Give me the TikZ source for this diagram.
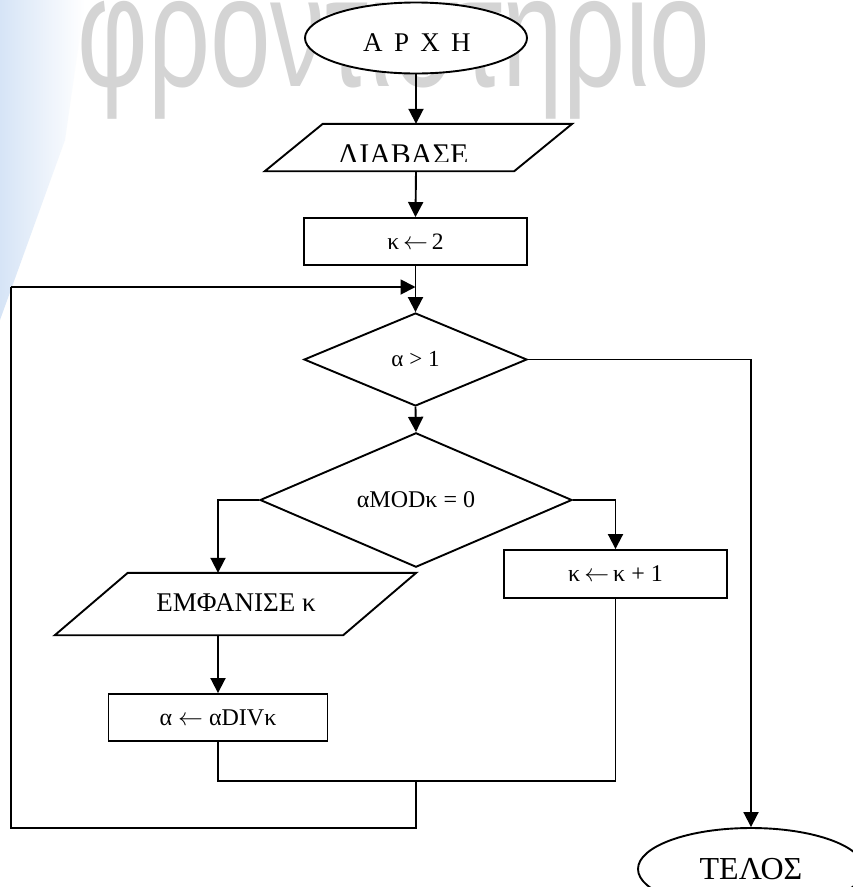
\documentclass[tikz,border=0pt]{standalone}
\usepackage{fontspec}
\setmainfont{Liberation Serif}
\newfontfamily\wmfont{Liberation Sans}
\usetikzlibrary{shapes.geometric,arrows.meta,calc}
\newcommand{\lar}{\ensuremath{\leftarrow}}
\begin{document}
\begin{tikzpicture}[x=1pt,y=-1pt,
  line/.style={line width=1.9pt},
  arr/.style={line width=1.9pt,-{Triangle[length=15pt,width=15pt]}},
  box/.style={draw,line width=1.9pt,rectangle,inner sep=0pt,fill=white},
  dia/.style={draw,line width=1.9pt,diamond,inner sep=0pt,fill=white},
  term/.style={draw,line width=1.9pt,ellipse,inner sep=0pt,fill=white},
  ghost/.style={inner sep=0pt},
  fs/.style={font=\fontsize{#1}{#1}\selectfont}
]
\clip (0,0) rectangle (853,887);
\fill[white] (0,0) rectangle (853,887);
% faint background of the scanned page
\shade[left color={rgb,255:red,214;green,228;blue,246},right color=white]
  (0,0) -- (85,0) -- (65,140) -- (0,320) -- cycle;
\node[ghost,anchor=base,text=black!17] (wm) at (394,86)
  {\scalebox{1}[1.45]{\wmfont\fontsize{109}{109}\selectfont φροντιστηριο}};

% nodes
\node[term,minimum width=222pt,minimum height=71pt] (start) at (416,38) {};
\node[ghost,fs=27] (starttxt) at (417,42.5) {Α\hspace{0.42em}Ρ\hspace{0.42em}Χ\hspace{0.42em}Η};

\node[ghost,minimum width=307pt,minimum height=47pt] (read) at (418.5,147.5) {};
\draw[line,fill=white] ($(read.north west)+(58,0)$) -- (read.north east)
  -- ($(read.south east)+(-58,0)$) -- (read.south west) -- cycle;
\begin{scope}
  \clip (300,126) rectangle (560,161.5);
  \node[ghost,fs=30,anchor=base] (readtxt) at (403,164) {ΛΙΑΒΑΣΕ};
\end{scope}

\node[box,minimum width=223pt,minimum height=47pt,fs=23.5] (init) at (415.5,241.5) {κ\,\lar\,2};

\node[dia,minimum width=223pt,minimum height=93pt,fs=23] (d1) at (415.5,359.5) {α > 1};

\node[dia,minimum width=312pt,minimum height=93pt,fs=24] (d2) at (416,500) {αMODκ = 0};

\node[ghost,minimum width=361pt,minimum height=62pt] (show) at (235.5,604) {};
\draw[line,fill=white] ($(show.north west)+(73,0)$) -- (show.north east)
  -- ($(show.south east)+(-73,0)$) -- (show.south west) -- cycle;
\node[ghost,fs=27] (showtxt) at (236,603) {ΕΜΦΑΝΙΣΕ κ};

\node[box,minimum width=219pt,minimum height=47pt,fs=24] (div) at (218,717.5) {α \lar\ αDIVκ};

\node[box,minimum width=223pt,minimum height=48pt,fs=24] (inc) at (615.5,574) {κ\,\lar\,κ + 1};

\node[term,minimum width=226pt,minimum height=82pt,fs=32] (end) at (751,869) {ΤΕΛΟΣ};

% helper coordinates of the loop
\coordinate (j) at (416,781);
\coordinate (b) at (416,828);
\coordinate (l) at (11,828);
\coordinate (t) at (11,287);

% connectors
\draw[arr] (start.south) -- (start.south |- read.north);
\draw[arr] (start.south |- read.south) -- (init.north);
\draw[arr] (init.south) -- (d1.north);
\draw[arr] (t) -- (init.south |- t);
\draw[arr] (d1.east) -| (end.north);
\draw[arr] (d1.south) -- (d2.north);
\draw[arr] (d2.west) -| (div.north |- show.north);
\draw[arr] (div.north |- show.south) -- (div.north);
\draw[arr] (d2.east) -| (inc.north);
\draw[line] (div.south) |- (j) -| (inc.south);
\draw[line] (j) -- (b) -- (l) -- (t);
\end{tikzpicture}
\end{document}
